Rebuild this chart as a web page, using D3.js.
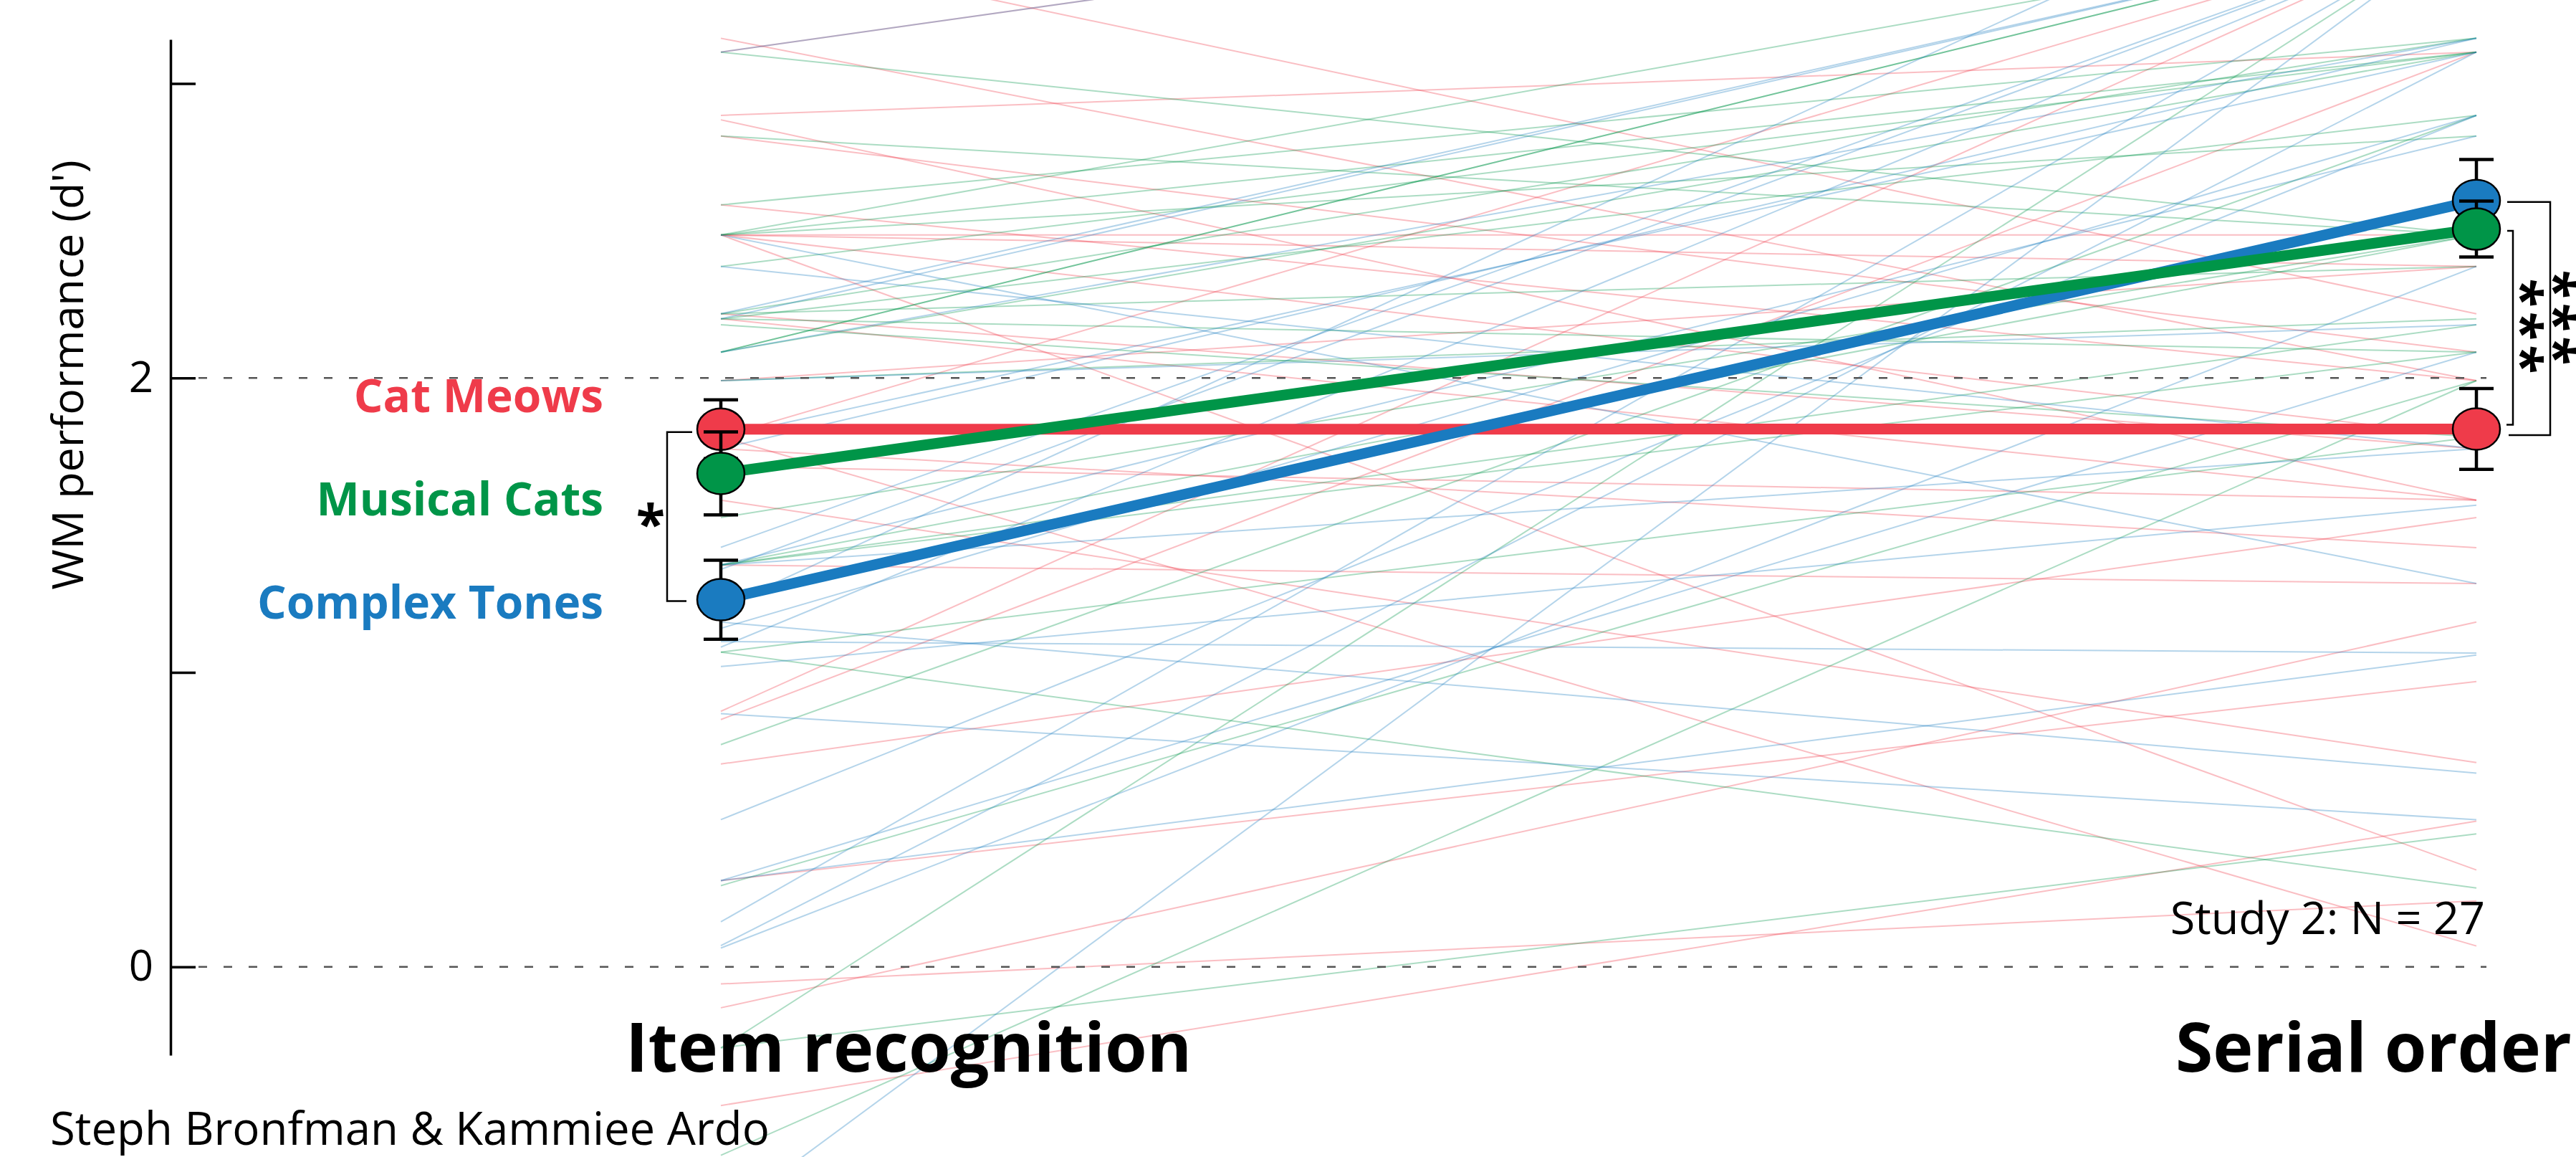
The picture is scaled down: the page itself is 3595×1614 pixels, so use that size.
<!DOCTYPE html>
<meta charset="utf-8">
<style>
body { margin: 0; background: #fff; }
svg { display: block; font-family: 'Open Sans', sans-serif; }
.subj { fill: none; stroke-width: 2; stroke-opacity: 0.33; }
.ref { stroke: #555; stroke-width: 2.5; stroke-dasharray: 12,23; }
.meanline { fill: none; stroke-width: 15; }
.err { stroke: #000; stroke-width: 4.5; fill: none; }
.pt { stroke: #000; stroke-width: 2.5; }
.bracket { fill: none; stroke: #000; stroke-width: 2.5; }
.yaxis path, .yaxis line { stroke: #000; stroke-width: 3.5; }
.yaxis text { font-family: 'Open Sans', sans-serif; font-size: 60px; font-weight: 400; fill: #000; }
</style>
<svg width="3595" height="1614"></svg>
<script src="https://d3js.org/d3.v7.min.js"></script>
<script>

var svg = d3.select('svg');

// tasks on the x axis, conditions as series
var tasks = ["Item recognition", "Serial order"];
var conditions = ["Cat Meows", "Musical Cats", "Complex Tones"];
var colors = ["#EF3B4A", "#009548", "#1A7BC0"];

// group means and standard errors (d')
var meanIR = [1.826, 1.676, 1.247];
var meanSO = [1.827, 2.506, 2.603];
var seIR = [0.100, 0.141, 0.134];
var seSO = [0.137, 0.095, 0.139];

// individual participants (N = 27), item recognition -> serial order
var redIR = [3.154, 3.107, 2.892, 2.877, 2.822, 2.588, 2.486, 2.486, 2.486, 2.486, 2.218, 2.201, 1.991, 3.48, 1.80, 1.80, 1.76, 1.585, 1.365, 0.868, 0.84, 0.689, 0.293, -0.058, -0.139, -0.471, 1.70];
var redSO = [1.991, 3.95, 3.107, 1.585, 2.088, 1.991, 2.486, 2.379, 1.80, 0.329, 1.76, 1.585, 2.379, 2.218, 0.071, 3.55, 1.424, 0.694, 1.302, 3.55, 3.107, 1.526, 0.969, 0.224, 1.171, 0.495, 1.585];
var greenIR = [3.107, 2.822, 2.588, 2.486, 2.486, 2.486, 2.379, 2.088, 2.088, 1.991, 1.365, 1.365, 1.365, 1.069, 1.069, 1.526, 0.755, 0.276, -0.275, -0.275, -0.64, 2.218, 2.181, 2.201, 2.218, 2.201, 2.088];
var greenSO = [2.486, 2.486, 3.154, 3.55, 3.107, 2.822, 3.107, 3.55, 3.107, 2.201, 2.486, 2.181, 2.088, 0.268, 1.80, 2.486, 2.892, 1.991, 0.452, 3.55, 1.991, 2.379, 1.80, 2.892, 3.154, 2.088, 3.55];
var blueIR = [3.107, 2.486, 2.379, 2.218, 1.425, 1.365, 1.365, 1.105, 1.086, 1.02, 0.86, 0.50, 0.293, 0.293, 0.153, 0.072, 0.064, 1.171, -0.85, 2.201, 2.088, 1.991, 1.80, 1.15, 1.35, 1.22, 1.76];
var blueSO = [3.95, 1.302, 1.76, 3.55, 3.55, 2.822, 1.76, 1.066, 3.55, 1.568, 0.50, 2.892, 2.088, 1.059, 3.55, 3.107, 2.379, 0.658, 3.55, 3.55, 3.154, 2.181, 3.107, 2.892, 3.55, 3.95, 3.154];

var yTicks = [0, 1, 2, 3];
var refLines = [0, 2];

// significance: [task index, condition a, condition b, label]
var comparisons = [
  [0, 0, 2, "*"],
  [1, 1, 0, "***"],
  [1, 2, 0, "***"]
];

var subjIR = [redIR, greenIR, blueIR];
var subjSO = [redSO, greenSO, blueSO];

var y = d3.scaleLinear().domain([-0.3, 3.15]).range([1472, 55]);
var x = d3.scalePoint().domain(tasks).range([1006, 3456]);

// participant lines
conditions.forEach(function(c, i) {
  var pairs = subjIR[i].map(function(v, j) { return [v, subjSO[i][j]]; });
  svg.append('g').selectAll('line')
    .data(pairs)
    .enter()
    .append('line')
    .attr('class', 'subj')
    .attr('stroke', colors[i])
    .attr('x1', x(tasks[0]))
    .attr('x2', x(tasks[1]))
    .attr('y1', function(d) { return y(d[0]); })
    .attr('y2', function(d) { return y(d[1]); });
});

// y axis
svg.append('g')
  .attr('class', 'yaxis')
  .attr('transform', 'translate(238,0)')
  .call(d3.axisLeft(y).tickValues(yTicks).tickSize(-35).tickSizeOuter(0).tickPadding(24)
    .tickFormat(function(d) { return d % 2 === 0 ? d : ''; }));

svg.append('text')
  .attr('transform', 'translate(116,523) rotate(-90)')
  .attr('text-anchor', 'middle')
  .style('font-size', '61px')
  .style('font-weight', 400)
  .text("WM performance (d')");

// dashed reference lines
svg.selectAll('.ref')
  .data(refLines)
  .enter()
  .append('line')
  .attr('class', 'ref')
  .attr('x1', 277)
  .attr('x2', 3470)
  .attr('y1', function(d) { return y(d); })
  .attr('y2', function(d) { return y(d); });

// group means: draw red, blue, then green on top
var order = [0, 2, 1];

order.forEach(function(i) {
  svg.append('line')
    .attr('class', 'meanline')
    .attr('stroke', colors[i])
    .attr('x1', x(tasks[0])).attr('y1', y(meanIR[i]))
    .attr('x2', x(tasks[1])).attr('y2', y(meanSO[i]));
});

order.forEach(function(i) {
  var pts = [[tasks[0], meanIR[i], seIR[i]], [tasks[1], meanSO[i], seSO[i]]];
  var g = svg.append('g');
  pts.forEach(function(p) {
    var cx = x(p[0]), lo = y(p[1] - p[2]), hi = y(p[1] + p[2]);
    g.append('path')
      .attr('class', 'err')
      .attr('d', 'M' + cx + ',' + lo + 'V' + hi +
                 'M' + (cx - 24) + ',' + lo + 'H' + (cx + 24) +
                 'M' + (cx - 24) + ',' + hi + 'H' + (cx + 24));
  });
  g.selectAll('ellipse')
    .data(pts)
    .enter()
    .append('ellipse')
    .attr('class', 'pt')
    .attr('fill', colors[i])
    .attr('cx', function(d) { return x(d[0]); })
    .attr('cy', function(d) { return y(d[1]); })
    .attr('rx', 33)
    .attr('ry', 29);
});

// significance brackets
var brk = [
  {bx: 931, ax: 966, bxEnd: 958, dyA: 4, dyB: 2, sx: 908, sy: 757},
  {bx: 3507, ax: 3499, bxEnd: 3498, dyA: 2.5, dyB: -6, sx: 3494, sy: 458},
  {bx: 3559, ax: 3499, bxEnd: 3501, dyA: 2, dyB: 8.5, sx: 3540, sy: 446}
];
comparisons.forEach(function(c, k) {
  var means = c[0] === 0 ? meanIR : meanSO;
  var b = brk[k];
  var ya = y(means[c[1]]) + b.dyA, yb = y(means[c[2]]) + b.dyB;
  svg.append('path')
    .attr('class', 'bracket')
    .attr('d', 'M' + b.ax + ',' + ya + 'H' + b.bx + 'V' + yb + 'H' + b.bxEnd);
  var t = svg.append('text')
    .attr('text-anchor', 'middle')
    .style('font-size', '74px')
    .style('font-weight', 700)
    .text(c[3]);
  if (c[0] === 0) {
    t.attr('x', b.sx).attr('y', b.sy);
  } else {
    t.attr('transform', 'translate(' + b.sx + ',' + b.sy + ') rotate(90)')
     .style('letter-spacing', '6px');
  }
});

// legend
svg.selectAll('.legend')
  .data(conditions)
  .enter()
  .append('text')
  .attr('class', 'legend')
  .attr('x', 842)
  .attr('y', function(d, i) { return 575 + i * 144; })
  .attr('text-anchor', 'end')
  .attr('fill', function(d, i) { return colors[i]; })
  .style('font-size', '64px')
  .style('font-weight', 700)
  .text(function(d) { return d; });

// task labels
svg.selectAll('.task')
  .data(tasks)
  .enter()
  .append('text')
  .attr('class', 'task')
  .attr('x', function(d, i) { return i === 0 ? 873 : 3036; })
  .attr('y', 1495)
  .style('font-size', '95px')
  .style('font-weight', 700)
  .text(function(d) { return d; });

svg.append('text')
  .attr('x', 3468)
  .attr('y', 1303)
  .attr('text-anchor', 'end')
  .style('font-size', '63px')
  .text('Study 2: N = 27');

svg.append('text')
  .attr('x', 70)
  .attr('y', 1597)
  .style('font-size', '63.5px')
  .text('Steph Bronfman & Kammiee Ardo');

</script>
